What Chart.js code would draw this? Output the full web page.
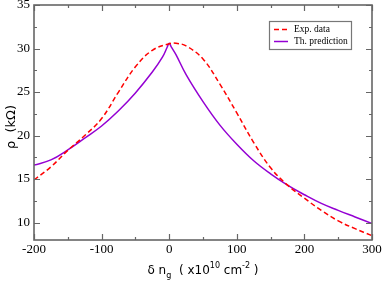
<!DOCTYPE html>
<html>
<head>
<meta charset="utf-8">
<script src="https://cdn.jsdelivr.net/npm/chart.js@4/dist/chart.umd.min.js"></script>
<style>
  html, body { margin: 0; padding: 0; background: #fff; }
  #c { display: block; }
</style>
</head>
<body>
<canvas id="c" width="382" height="281"></canvas>
<script>
// datos
var xExp = [-200, -175, -150, -125, -100, -75, -50, -25, 0, 10, 25, 50, 75, 100, 125, 150, 175, 200, 225, 250, 275, 300];
var rhoExp = [14.9, 16.4, 18.3, 20.0, 21.95, 25.0, 27.9, 29.8, 30.55, 30.6, 30.3, 28.8, 25.9, 22.6, 19.2, 16.3, 14.3, 12.8, 11.4, 10.2, 9.3, 8.5];

var xTh = [-200, -175, -150, -125, -100, -75, -50, -25, -10, -3, 0, 3, 10, 25, 50, 75, 100, 125, 150, 175, 200, 225, 250, 275, 300];
var rhoTh = [16.6, 17.2, 18.35, 19.7, 21.1, 22.85, 24.9, 27.3, 29.0, 30.15, 30.6, 30.2, 29.3, 27.0, 23.9, 21.2, 19.0, 17.1, 15.6, 14.3, 13.2, 12.2, 11.4, 10.65, 9.9];

var xTicks = [-200, -100, 0, 100, 200, 300];
var xMinorTicks = [-150, -50, 50, 150, 250];
var yTicks = [10, 15, 20, 25, 30, 35];
var yMinorTicks = [12.5, 17.5, 22.5, 27.5, 32.5];

var seriesNames = ['Exp. data', 'Th. prediction'];

function toPoints(xs, ys) {
	var out = [];
	for (var i = 0; i < xs.length; i++) {
		out.push({ x: xs[i], y: ys[i] });
	}
	return out;
}

// marco, marcas, etiquetas y leyenda al estilo xmgrace
var framePlugin = {
	id: 'frame',
	afterDraw: function (chart) {
		var ctx = chart.ctx;
		var a = chart.chartArea;
		var xs = chart.scales.x;
		var ys = chart.scales.y;
		ctx.save();

		ctx.strokeStyle = '#666';
		ctx.lineWidth = 1.6;
		ctx.strokeRect(a.left, a.top, a.right - a.left, a.bottom - a.top);

		ctx.lineWidth = 1.2;
		ctx.beginPath();
		xTicks.concat(xMinorTicks).forEach(function (v) {
			var len = xTicks.indexOf(v) >= 0 ? 6 : 3;
			var px = Math.round(xs.getPixelForValue(v)) + 0.5;
			ctx.moveTo(px, a.bottom); ctx.lineTo(px, a.bottom - len);
			ctx.moveTo(px, a.top); ctx.lineTo(px, a.top + len);
		});
		yTicks.concat(yMinorTicks).forEach(function (v) {
			var len = yTicks.indexOf(v) >= 0 ? 6 : 3;
			var py = Math.round(ys.getPixelForValue(v)) + 0.5;
			ctx.moveTo(a.left, py); ctx.lineTo(a.left + len, py);
			ctx.moveTo(a.right, py); ctx.lineTo(a.right - len, py);
		});
		ctx.stroke();

		// etiquetas de los ejes
		ctx.fillStyle = '#000';
		ctx.font = '13px "Liberation Serif", "Times New Roman", serif';
		ctx.textAlign = 'center';
		ctx.textBaseline = 'top';
		xTicks.forEach(function (v) {
			ctx.fillText(String(v), xs.getPixelForValue(v), a.bottom + 3);
		});
		ctx.textAlign = 'right';
		ctx.textBaseline = 'middle';
		yTicks.forEach(function (v) {
			ctx.fillText(String(v), a.left - 4, ys.getPixelForValue(v));
		});

		// titulo eje x con sub y superindices
		var big = '12px "DejaVu Sans", sans-serif';
		var small = '8px "DejaVu Sans", sans-serif';
		var parts = [
			['\u03b4 n', big, 0],
			['g', small, 4],
			['  ( x10', big, 0],
			['10', small, -6],
			[' cm', big, 0],
			['-2', small, -6],
			[' )', big, 0]
		];
		var total = 0;
		parts.forEach(function (p) { ctx.font = p[1]; total += ctx.measureText(p[0]).width; });
		var cx = 203 - total / 2;
		var base = 274;
		ctx.textAlign = 'left';
		ctx.textBaseline = 'alphabetic';
		parts.forEach(function (p) {
			ctx.font = p[1];
			ctx.fillText(p[0], cx, base + p[2]);
			cx += ctx.measureText(p[0]).width;
		});

		// titulo eje y
		ctx.save();
		ctx.translate(15, 127);
		ctx.rotate(-Math.PI / 2);
		ctx.font = '13px "DejaVu Sans", sans-serif';
		ctx.textAlign = 'center';
		ctx.fillText('\u03c1  (k\u03a9)', 0, 0);
		ctx.restore();

		// leyenda
		var lx = 269, ly = 21, lw = 82, lh = 28;
		ctx.fillStyle = '#fff';
		ctx.fillRect(lx, ly, lw, lh);
		ctx.strokeStyle = '#777';
		ctx.lineWidth = 1.2;
		ctx.strokeRect(lx + 0.5, ly + 0.5, lw, lh);
		var ds = chart.data.datasets;
		ctx.font = '9.5px "Liberation Serif", "Times New Roman", serif';
		ctx.fillStyle = '#000';
		ctx.textBaseline = 'middle';
		[29.5, 41.5].forEach(function (yy, i) {
			ctx.strokeStyle = ds[i].borderColor;
			ctx.lineWidth = 1.5;
			ctx.setLineDash(ds[i].borderDash || []);
			ctx.beginPath();
			ctx.moveTo(274, yy); ctx.lineTo(288, yy);
			ctx.stroke();
			ctx.setLineDash([]);
			ctx.fillText(seriesNames[i], 294, yy);
		});

		ctx.restore();
	}
};

var chart = new Chart(document.getElementById('c').getContext('2d'), {
	type: 'line',
	data: {
		datasets: [{
			label: seriesNames[0],
			data: toPoints(xExp, rhoExp),
			borderColor: '#ff0000',
			borderWidth: 1.5,
			borderDash: [5, 3],
			pointRadius: 0,
			tension: 0.4,
			fill: false
		}, {
			label: seriesNames[1],
			data: toPoints(xTh, rhoTh),
			borderColor: '#9400d3',
			borderWidth: 1.5,
			pointRadius: 0,
			tension: 0.4,
			fill: false
		}]
	},
	options: {
		responsive: false,
		devicePixelRatio: 1,
		animation: false,
		layout: { padding: { left: 34, right: 10, top: 5, bottom: 41 } },
		plugins: {
			legend: { display: false },
			tooltip: { enabled: false }
		},
		scales: {
			x: { type: 'linear', min: -200, max: 300, display: false },
			y: { type: 'linear', min: 8, max: 35, display: false }
		}
	},
	plugins: [framePlugin]
});
</script>
</body>
</html>
